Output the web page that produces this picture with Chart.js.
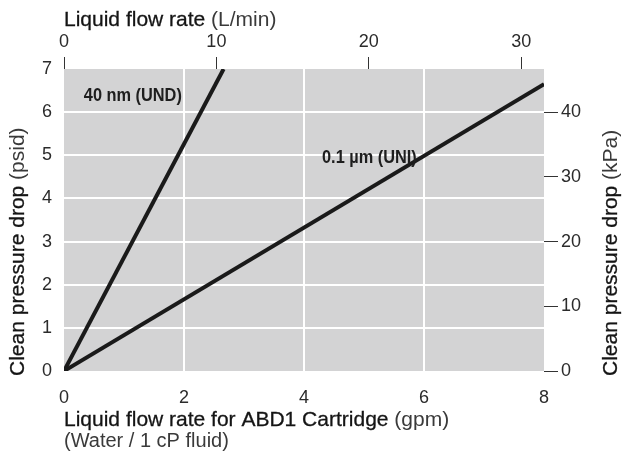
<!DOCTYPE html>
<html>
<head>
<meta charset="utf-8">
<script src="https://cdn.jsdelivr.net/npm/chart.js@4"></script>
<style>
  body { margin: 0; background: #fff; }
  #wrap { width: 624px; height: 459px; position: relative; }
</style>
</head>
<body>
<div id="wrap"><canvas id="grafico"></canvas></div>
<script>
// Dados
const gpmTicks = [0, 2, 4, 6, 8];
const lpmTicks = [0, 10, 20, 30];
const psidTicks = [0, 1, 2, 3, 4, 5, 6, 7];
const kpaTicks = [0, 10, 20, 30, 40];

const undGpm = [0, 2.66];
const undPsid = [0, 7];
const uniGpm = [0, 8];
const uniPsid = [0, 6.65];

const seriesNames = ['40 nm (UND)', '0.1 \u00b5m (UNI)'];
// onde ficam os rotulos das curvas (em unidades gpm / psid)
const labelGpm = [0.33, 4.3];
const labelPsid = [6.37, 4.94];

const escalaLpmMax = 31.5;   // topo do eixo superior
const escalaKpaMax = 46.67;  // topo do eixo direito

const corTexto = '#2b2b2b';
const fonteTick = { family: 'Liberation Sans, Arial, sans-serif', size: 18 };

function pontos(xs, ys) {
  return xs.map((x, i) => ({ x: x, y: ys[i] }));
}

// Fundo cinza da area do grafico
const fundoPlugin = {
  id: 'fundo',
  beforeDraw(chart) {
    const { ctx, chartArea: a } = chart;
    ctx.save();
    ctx.fillStyle = '#fff';
    ctx.fillRect(0, 0, chart.width, chart.height);
    ctx.fillStyle = '#d3d3d4';
    ctx.fillRect(a.left, a.top, a.right - a.left, a.bottom - a.top);
    ctx.restore();
  }
};

// escreve texto com parte escura + parte entre parenteses mais leve
function textoMisto(ctx, partes, x, y) {
  let cx = x;
  partes.forEach(p => {
    ctx.font = p.font;
    ctx.fillStyle = p.color;
    ctx.fillText(p.text, cx, y);
    if (p.peso) {
      ctx.lineWidth = p.peso;
      ctx.strokeStyle = p.color;
      ctx.strokeText(p.text, cx, y);
    }
    cx += ctx.measureText(p.text).width;
  });
}

const titulosPlugin = {
  id: 'titulos',
  afterDraw(chart) {
    const { ctx, chartArea: a, scales } = chart;
    const forte = '21px Liberation Sans, Arial, sans-serif';
    const leve = '21px Liberation Sans, Arial, sans-serif';
    ctx.save();
    ctx.textBaseline = 'middle';
    ctx.textAlign = 'left';

    // titulo de cima
    textoMisto(ctx, [
      { text: 'Liquid flow rate ', font: forte, color: '#151515', peso: 0.3 },
      { text: '(L/min)', font: leve, color: '#3a3a3a' }
    ], a.left, 20);

    // titulo de baixo
    textoMisto(ctx, [
      { text: 'Liquid flow rate for ABD1 Cartridge ', font: forte, color: '#151515', peso: 0.3 },
      { text: '(gpm)', font: leve, color: '#3a3a3a' }
    ], a.left, 420);
    textoMisto(ctx, [
      { text: '(Water / 1 cP fluid)', font: '20px Liberation Sans, Arial, sans-serif', color: '#3a3a3a' }
    ], a.left, 441);

    // titulo esquerdo (rotacionado)
    ctx.save();
    ctx.translate(18, 376);
    ctx.rotate(-Math.PI / 2);
    textoMisto(ctx, [
      { text: 'Clean pressure drop ', font: forte, color: '#151515', peso: 0.3 },
      { text: '(psid)', font: leve, color: '#3a3a3a' }
    ], 0, 0);
    ctx.restore();

    // titulo direito
    ctx.save();
    ctx.translate(611, 376);
    ctx.rotate(-Math.PI / 2);
    textoMisto(ctx, [
      { text: 'Clean pressure drop ', font: forte, color: '#151515', peso: 0.3 },
      { text: '(kPa)', font: leve, color: '#3a3a3a' }
    ], 0, 0);
    ctx.restore();

    // rotulos das curvas (negrito condensado)
    ctx.font = 'bold 19px Liberation Sans, Arial, sans-serif';
    ctx.fillStyle = '#1e1e1e';
    seriesNames.forEach((nome, i) => {
      const px = scales.x.getPixelForValue(labelGpm[i]);
      const py = scales.y.getPixelForValue(labelPsid[i]);
      ctx.save();
      ctx.translate(px, py);
      ctx.scale(0.86, 1);
      ctx.fillText(nome, 0, 0);
      ctx.restore();
    });
    ctx.restore();
  }
};

function ticksDe(lista) {
  return scale => { scale.ticks = lista.map(v => ({ value: v })); };
}

function gradeInterna(lista) {
  return c => {
    const v = c.tick ? c.tick.value : null;
    return (v === lista[0] || v === lista[lista.length - 1]) ? 'rgba(0,0,0,0)' : '#ffffff';
  };
}

const ctx = document.getElementById('grafico').getContext('2d');
const grafico = new Chart(ctx, {
  type: 'scatter',
  data: {
    datasets: [
      {
        label: seriesNames[0],
        data: pontos(undGpm, undPsid),
        showLine: true,
        borderColor: '#1a1a1a',
        borderWidth: 4,
        pointRadius: 0,
        xAxisID: 'x',
        yAxisID: 'y'
      },
      {
        label: seriesNames[1],
        data: pontos(uniGpm, uniPsid),
        showLine: true,
        borderColor: '#1a1a1a',
        borderWidth: 4,
        pointRadius: 0,
        xAxisID: 'x',
        yAxisID: 'y'
      }
    ]
  },
  options: {
    responsive: true,
    maintainAspectRatio: false,
    devicePixelRatio: 1,
    animation: false,
    layout: { padding: 0 },
    plugins: {
      legend: { display: false },
      tooltip: { enabled: false }
    },
    scales: {
      x: {
        type: 'linear',
        position: 'bottom',
        min: 0,
        max: 8,
        afterBuildTicks: ticksDe(gpmTicks),
        afterFit: s => { s.height = 88; },
        border: { display: false },
        grid: { color: gradeInterna(gpmTicks), lineWidth: 2, drawTicks: false },
        ticks: { color: corTexto, font: fonteTick, padding: 16, maxRotation: 0 }
      },
      x2: {
        type: 'linear',
        position: 'top',
        min: 0,
        max: escalaLpmMax,
        afterBuildTicks: ticksDe(lpmTicks),
        afterFit: s => { s.height = 69; },
        border: { display: false },
        grid: { drawOnChartArea: false, drawTicks: true, tickLength: 12, tickColor: '#333', tickWidth: 1 },
        ticks: { color: corTexto, font: fonteTick, padding: 4, maxRotation: 0 }
      },
      y: {
        type: 'linear',
        position: 'left',
        min: 0,
        max: 7,
        afterBuildTicks: ticksDe(psidTicks),
        afterFit: s => { s.width = 64; },
        border: { display: false },
        grid: { color: gradeInterna(psidTicks), lineWidth: 2, drawTicks: false },
        ticks: { color: corTexto, font: fonteTick, padding: 12 }
      },
      y2: {
        type: 'linear',
        position: 'right',
        min: 0,
        max: escalaKpaMax,
        afterBuildTicks: ticksDe(kpaTicks),
        afterFit: s => { s.width = 80; },
        border: { display: false },
        grid: { drawOnChartArea: false, drawTicks: true, tickLength: 14, tickColor: '#333', tickWidth: 1 },
        ticks: { color: corTexto, font: fonteTick, padding: 3 }
      }
    }
  },
  plugins: [fundoPlugin, titulosPlugin]
});
</script>
</body>
</html>
